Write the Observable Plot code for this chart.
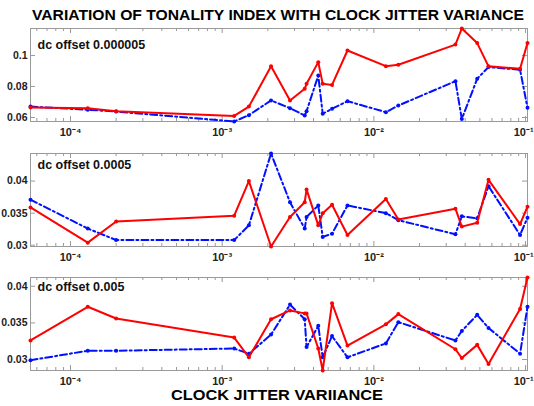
<!DOCTYPE html>
<html>
<head>
<meta charset="utf-8">
<script src="https://cdn.jsdelivr.net/npm/d3@7"></script>
<script src="https://cdn.jsdelivr.net/npm/@observablehq/plot@0.6"></script>
<style>
  html, body { margin: 0; padding: 0; background: #fff; }
  #root { position: relative; width: 534px; height: 406px; overflow: hidden; font-family: "Liberation Sans", Arial, sans-serif; }
  .panel { position: absolute; left: 0; }
  #labels { position: absolute; left: 0; top: 0; }
</style>
</head>
<body>
<div id="root"></div>
<script>
// ---- data ----
const titleText = "VARIATION OF TONALITY INDEX WITH CLOCK JITTER VARIANCE";
const xLabelText = "CLOCK JITTER VARIIANCE";
const panelLabels = ["dc offset 0.000005", "dc offset 0.0005", "dc offset 0.005"];

// clock jitter variance (x), shared by all curves
const jitter = [5.45e-5, 1.3e-4, 2.0e-4, 1.2e-3, 1.5e-3, 2.1e-3, 2.8e-3, 3.5e-3, 3.6e-3, 4.3e-3, 4.6e-3,
                5.3e-3, 6.7e-3, 0.012, 0.0145, 0.0345, 0.038, 0.048, 0.057, 0.092, 0.103];

// panel 1: dc offset 0.000005
const red1  = [0.0665, 0.066, 0.064, 0.061, 0.067, 0.093, 0.071, 0.0785, 0.0817, 0.0957, 0.0817,
               0.081, 0.1032, 0.0931, 0.094, 0.107, 0.1174, 0.108, 0.093, 0.0914, 0.108];
const blue1 = [0.067, 0.065, 0.0638, 0.0574, 0.0615, 0.071, 0.066, 0.0613, 0.064, 0.087, 0.0624,
               0.0656, 0.0705, 0.0634, 0.0677, 0.0834, 0.059, 0.085, 0.0925, 0.0908, 0.0662];

// panel 2: dc offset 0.0005
const red2  = [0.0359, 0.0304, 0.0337, 0.0346, 0.040, 0.0298, 0.0344, 0.0367, 0.0387, 0.0331, 0.035,
               0.0363, 0.0316, 0.0372, 0.034, 0.0357, 0.0329, 0.0335, 0.0402, 0.0333, 0.036];
const blue2 = [0.0371, 0.0326, 0.0308, 0.0308, 0.0331, 0.0443, 0.0367, 0.0326, 0.0344, 0.0362, 0.0313,
               0.0318, 0.0362, 0.035, 0.0339, 0.0317, 0.0345, 0.0342, 0.0392, 0.0316, 0.0343];

// panel 3: dc offset 0.005
const red3  = [0.0326, 0.0372, 0.0356, 0.033, 0.0303, 0.0355, 0.0367, 0.0363, 0.0363, 0.0315, 0.0285,
               0.0377, 0.0319, 0.0348, 0.0362, 0.0314, 0.0302, 0.032, 0.0294, 0.0369, 0.0412];
const blue3 = [0.0299, 0.0312, 0.0312, 0.0315, 0.0308, 0.0334, 0.0375, 0.0355, 0.0317, 0.0346, 0.0303,
               0.0332, 0.0303, 0.0322, 0.0351, 0.0326, 0.0339, 0.0361, 0.0343, 0.0308, 0.0372];

const xMajorTicks = [1e-4, 1e-3, 1e-2, 1e-1];
const xTickLabels = ["10\u207B\u2074", "10\u207B\u00B3", "10\u207B\u00B2", "10\u207B\u00B9"];
const yTicks = [[0.06, 0.08, 0.1], [0.03, 0.035, 0.04], [0.03, 0.035, 0.04]];
const yTickLabels = [["0.06", "0.08", "0.1"], ["0.03", "0.035", "0.04"], ["0.03", "0.035", "0.04"]];

// ---- layout ----
const W = 534, H = 125, mL = 30, mR = 7, mT = 8, mB = 24;
const innerW = W - mL - mR, innerH = H - mT - mB;
const panelTops = [20, 145, 269];
const labelDy = [16, 11, 9];
const frameColor = "#9a9a9a";
const root = document.getElementById("root");

const xDomain = d3.extent(jitter);
const minorTicks = [];
for (let k = -5; k <= -1; k++) for (let m = 2; m <= 9; m++) {
  const v = m * Math.pow(10, k);
  if (v >= xDomain[0] && v <= xDomain[1]) minorTicks.push(v);
}

const series = [[red1, blue1], [red2, blue2], [red3, blue3]];

series.forEach(([red, blue], i) => {
  const redData = jitter.map((x, j) => ({x, y: red[j]}));
  const blueData = jitter.map((x, j) => ({x, y: blue[j]}));
  const yDomain = d3.extent([...red, ...blue]);
  const xt = xMajorTicks.map((v, j) => ({v, label: xTickLabels[j]})).filter(d => d.v >= xDomain[0] * 0.999 && d.v <= xDomain[1] * 1.001);
  const xtInner = xt.slice(0, -1), xtLast = xt.slice(-1);
  const yt = yTicks[i].map((v, j) => ({v, label: yTickLabels[i][j]}));
  const chart = Plot.plot({
    width: W, height: H,
    marginLeft: mL, marginRight: mR, marginTop: mT, marginBottom: mB,
    style: {fontFamily: "'Liberation Sans', Arial, sans-serif", background: "transparent", overflow: "visible"},
    x: {type: "log", domain: xDomain, axis: null},
    y: {domain: yDomain, axis: null},
    marks: [
      Plot.frame({stroke: frameColor, strokeWidth: 1}),
      Plot.ruleX(xt, {x: "v", insetTop: innerH - 5, stroke: frameColor}),
      Plot.ruleX(xt, {x: "v", insetBottom: innerH - 5, stroke: frameColor}),
      Plot.ruleX(minorTicks, {x: d => d, insetTop: innerH - 3, stroke: frameColor}),
      Plot.ruleX(minorTicks, {x: d => d, insetBottom: innerH - 3, stroke: frameColor}),
      Plot.ruleY(yt, {y: "v", insetRight: innerW - 5, stroke: frameColor}),
      Plot.ruleY(yt, {y: "v", insetLeft: innerW - 5, stroke: frameColor}),
      Plot.text(yt, {y: "v", text: "label", frameAnchor: "left", textAnchor: "end", dx: -3,
                     fontWeight: "bold", fontSize: 10.5, fill: "#222"}),
      Plot.text(xtInner, {x: "v", text: "label", frameAnchor: "bottom", lineAnchor: "middle", dy: 11,
                     fontWeight: "bold", fontSize: 11, fill: "#222"}),
      Plot.text(xtLast, {x: "v", text: "label", frameAnchor: "bottom", lineAnchor: "middle", dy: 11,
                     textAnchor: "end", dx: 8, fontWeight: "bold", fontSize: 11, fill: "#222"}),
      Plot.line(blueData, {x: "x", y: "y", stroke: "#0010ff", strokeWidth: 2, strokeDasharray: "7,3,2,3"}),
      Plot.dot(blueData, {x: "x", y: "y", r: 2, fill: "#0010ff"}),
      Plot.line(redData, {x: "x", y: "y", stroke: "#ff0000", strokeWidth: 2}),
      Plot.dot(redData, {x: "x", y: "y", r: 2, fill: "#ff0000"}),
      Plot.text([panelLabels[i]], {text: d => d, frameAnchor: "top-left", textAnchor: "start", lineAnchor: "middle",
                                   dx: 7, dy: labelDy[i], fontWeight: "bold", fontSize: 12.5, fill: "#111"})
    ]
  });
  chart.classList.add("panel");
  chart.style.top = panelTops[i] + "px";
  chart.style.position = "absolute";
  root.appendChild(chart);
});

// title and x-axis label, stretched to the widths seen in the reference
const svg = d3.select(root).append("svg").attr("id", "labels").attr("width", W).attr("height", 406)
  .style("font-family", "'Liberation Sans', Arial, sans-serif").style("font-weight", "bold");
svg.append("text").attr("x", 278).attr("y", 20).attr("text-anchor", "middle").attr("font-size", 14)
  .attr("textLength", 492).attr("lengthAdjust", "spacingAndGlyphs").text(titleText);
svg.append("text").attr("x", 277).attr("y", 400).attr("text-anchor", "middle").attr("font-size", 14.5)
  .attr("textLength", 212).attr("lengthAdjust", "spacingAndGlyphs").text(xLabelText);
</script>
</body>
</html>
